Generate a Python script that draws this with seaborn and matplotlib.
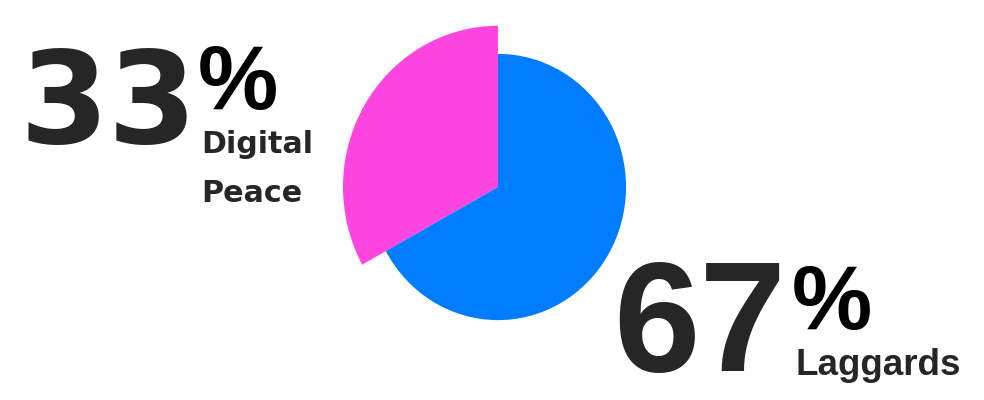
import matplotlib
matplotlib.use("Agg")
import matplotlib.pyplot as plt
import seaborn as sns

# ---- data ----
categories = ["Digital Peace", "Laggards"]
values = [33, 67]
pct_labels = ["33", "67"]
name_lines = [["Digital", "Peace"], ["Laggards"]]

# ---- style ----
pink = "#FF45DF"
blue = "#007DFF"
text_color = "#262626"

sns.set_theme(style="white")
W, H = 984, 400
fig = plt.figure(figsize=(W / 100, H / 100), dpi=100)
ax = fig.add_axes([0, 0, 1, 1])

yscale = 1.04
cx, cy = 498, 187
center = (cx, (H - cy) / yscale)

# pink slice (larger radius)
ax.pie(values, colors=[pink, "none"], radius=155, center=center,
       startangle=90, counterclock=True, wedgeprops=dict(linewidth=0))
# blue slice
ax.pie(values, colors=["none", blue], radius=128, center=center,
       startangle=90, counterclock=True, wedgeprops=dict(linewidth=0))

ax.set_aspect("auto")
ax.set_xlim(0, W)
ax.set_ylim(0, H / yscale)
ax.axis("off")


def px(x, y):
    return x / W, 1 - y / H


pct_font = dict(family="Liberation Sans", fontweight="bold", fontsize=65, color="black",
                ha="left", va="baseline")

# left group
fig.text(*px(19, 143), pct_labels[0], family="DejaVu Sans", fontweight="bold",
         fontsize=92, color=text_color, ha="left", va="baseline")
fig.text(*px(198, 109), "%", **pct_font)
fig.text(*px(201, 153), name_lines[0][0], family="DejaVu Sans", fontweight="bold",
         fontsize=21.7, color=text_color, ha="left", va="baseline")
fig.text(*px(201, 202), name_lines[0][1], family="DejaVu Sans", fontweight="bold",
         fontsize=21.7, color=text_color, ha="left", va="baseline")

# right group
fig.text(*px(613, 371), pct_labels[1], family="Liberation Sans", fontweight="bold",
         fontsize=112, color=text_color, ha="left", va="baseline")
fig.text(*px(792, 329), "%", **pct_font)
fig.text(*px(795, 375), name_lines[1][0], family="Liberation Sans", fontweight="bold",
         fontsize=26.5, color=text_color, ha="left", va="baseline")

fig.savefig("out.png", dpi=100, facecolor="white")
